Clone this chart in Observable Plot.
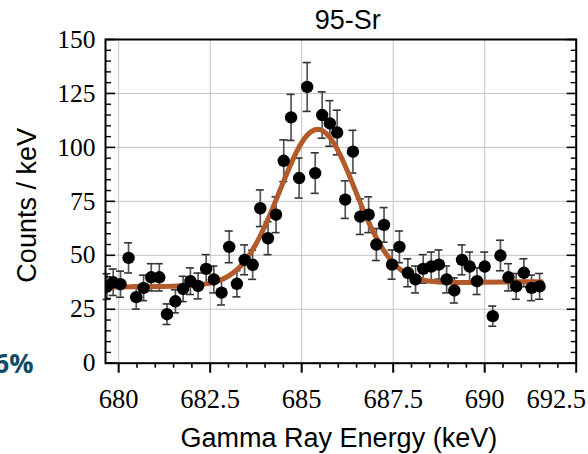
<!DOCTYPE html>
<html><head><meta charset="utf-8">
<script src="https://cdn.jsdelivr.net/npm/d3@7"></script>
<script src="https://cdn.jsdelivr.net/npm/@observablehq/plot@0.6"></script>
<style>
html,body{margin:0;padding:0;background:#fff;}
#chart{width:588px;height:454px;overflow:hidden;}
</style>
</head><body><div id="chart"></div>
<script>
// Measured spectrum points (Counts / keV vs energy)
const energy = [679.68, 679.85, 680.05, 680.27, 680.48, 680.68, 680.89, 681.11, 681.32, 681.55,
  681.76, 681.96, 682.17, 682.39, 682.60, 682.81, 683.02, 683.23, 683.44, 683.66,
  683.87, 684.08, 684.30, 684.51, 684.71, 684.93, 685.15, 685.37, 685.56, 685.77,
  685.97, 686.19, 686.40, 686.60, 686.83, 687.04, 687.25, 687.47, 687.67, 687.90,
  688.11, 688.32, 688.54, 688.75, 688.96, 689.17, 689.38, 689.59, 689.79, 690.00,
  690.22, 690.43, 690.65, 690.86, 691.07, 691.28, 691.50];
const counts = [35.5, 37.5, 36.6, 48.8, 30.6, 34.9, 39.8, 39.8, 22.7, 28.7,
  34.4, 38.0, 35.8, 43.7, 38.8, 32.7, 53.9, 36.8, 47.9, 45.6,
  71.8, 57.9, 68.8, 93.8, 113.9, 85.8, 128.0, 88.1, 115.0, 111.1,
  106.9, 75.8, 98.0, 67.9, 68.8, 55.0, 64.1, 45.7, 53.9, 41.9,
  38.8, 43.7, 44.8, 45.7, 38.8, 33.7, 47.9, 44.8, 38.0, 44.8,
  21.8, 49.9, 39.8, 35.6, 41.9, 34.9, 35.6];

// Fitted curve
const fitEnergy = [679.6, 680, 680.5, 681, 681.5, 682, 682.5, 682.75, 683, 683.25, 683.5, 683.75,
  684, 684.25, 684.5, 684.75, 685, 685.25, 685.5, 685.75, 686, 686.25, 686.5, 686.75,
  687, 687.25, 687.5, 687.75, 688, 688.25, 688.5, 689, 689.5, 690, 690.5, 691, 691.55];
const fitCounts = [35.2, 35.3, 35.4, 35.5, 35.7, 36.0, 37.1, 38.3, 40.4, 43.6, 48.4, 55.2,
  63.7, 73.6, 84.0, 94.0, 102.2, 107.2, 108.2, 105.0, 98.3, 89.0, 78.6, 68.4,
  59.3, 52.0, 46.5, 42.7, 40.2, 38.8, 38.0, 37.5, 37.4, 37.5, 37.6, 37.7, 37.8];

// Tick values
const xMajorTicks = [680, 682.5, 685, 687.5, 690, 692.5];
const xLabelTicks = [680, 682.5, 685, 687.5, 690];
const xLastLabel = [692.5];
const xMinorTicks = [680.5, 681, 681.5, 682, 683, 683.5, 684, 684.5, 685.5, 686, 686.5, 687,
  688, 688.5, 689, 689.5, 690.5, 691, 691.5, 692];
const yMajorTicks = [0, 25, 50, 75, 100, 125, 150];
const yMinorTicks = [5, 10, 15, 20, 30, 35, 40, 45, 55, 60, 65, 70, 80, 85, 90, 95,
  105, 110, 115, 120, 130, 135, 140, 145];

const titleText = "95-Sr";
const xLabelText = "Gamma Ray Energy (keV)";
const yLabelText = "Counts / keV";
const sideText = "6%";

const points = energy.map((e, i) => ({e, c: counts[i], err: Math.sqrt(counts[i])}));
const fit = fitEnergy.map((e, i) => ({e, c: fitCounts[i]}));

const serif = "'Liberation Serif', 'Times New Roman', serif";
const sans = "'Liberation Sans', Arial, sans-serif";
const none = () => "";

const chart = Plot.plot({
  width: 588, height: 454,
  marginLeft: 105, marginRight: 12.3, marginTop: 39, marginBottom: 91.3,
  style: {background: "white", overflow: "visible"},
  x: {domain: [679.64, 692.5], label: null},
  y: {domain: [0, 150], label: null},
  marks: [
    Plot.gridX(xMajorTicks, {stroke: "#c4c4c4", strokeOpacity: 1, strokeWidth: 1}),
    Plot.gridY(yMajorTicks, {stroke: "#c4c4c4", strokeOpacity: 1, strokeWidth: 1}),
    Plot.ruleX(points, {x: "e", y1: d => d.c - d.err, y2: d => d.c + d.err, stroke: "#555", strokeWidth: 1.7}),
    Plot.ruleY(points, {x1: "e", x2: "e", y: d => d.c + d.err, insetLeft: -4, insetRight: -4, stroke: "#333", strokeWidth: 1.6}),
    Plot.ruleY(points, {x1: "e", x2: "e", y: d => d.c - d.err, insetLeft: -4, insetRight: -4, stroke: "#333", strokeWidth: 1.6}),
    Plot.line(fit, {x: "e", y: "c", curve: "natural", stroke: "#b35a2b", strokeWidth: 5, clip: true}),
    Plot.dot(points, {x: "e", y: "c", r: 6.2, fill: "black", stroke: null, clip: true}),
    Plot.frame({stroke: "black", strokeWidth: 2}),
    // bottom ticks (outward)
    Plot.axisX(xMajorTicks, {tickSize: 10, tickFormat: none, strokeWidth: 2, label: null}),
    Plot.axisX(xMinorTicks, {tickSize: 5, tickFormat: none, strokeWidth: 1.6, label: null}),
    Plot.axisX(xLabelTicks, {tickSize: 0, tickPadding: 26, fontFamily: serif, fontSize: 26.5, tickFormat: d => String(d), label: null, ariaLabel: "x-labels"}),
    Plot.axisX(xLastLabel, {tickSize: 0, tickPadding: 26, dx: -20, fontFamily: serif, fontSize: 26.5, tickFormat: d => String(d), label: null, ariaLabel: "x-labels"}),
    // left ticks (inward)
    Plot.axisY(yMajorTicks, {anchor: "left", tickSize: 10, dx: 10, tickFormat: none, strokeWidth: 1.6, label: null}),
    Plot.axisY(yMinorTicks, {anchor: "left", tickSize: 6, dx: 6, tickFormat: none, strokeWidth: 1.4, label: null}),
    // right ticks (inward)
    Plot.axisY(yMajorTicks, {anchor: "right", tickSize: 10, dx: -10, tickFormat: none, strokeWidth: 1.6, label: null}),
    Plot.axisY(yMinorTicks, {anchor: "right", tickSize: 6, dx: -6, tickFormat: none, strokeWidth: 1.4, label: null}),
    // left labels
    Plot.axisY(yMajorTicks, {anchor: "left", tickSize: 0, tickPadding: 10, fontFamily: serif, fontSize: 25.5, tickFormat: d => String(d), label: null, ariaLabel: "y-labels"}),
    Plot.text([titleText], {text: d => d, frameAnchor: "top", textAnchor: "middle", lineAnchor: "middle", dx: 7, dy: -19, fontFamily: sans, fontSize: 27, fill: "black"}),
    Plot.text([xLabelText], {text: d => d, frameAnchor: "bottom", textAnchor: "middle", lineAnchor: "middle", dx: -2, dy: 75, fontFamily: sans, fontSize: 27, fill: "black"}),
    Plot.text([yLabelText], {text: d => d, frameAnchor: "left", textAnchor: "middle", lineAnchor: "middle", rotate: -90, dx: -78, dy: 4, fontFamily: sans, fontSize: 27, fill: "black"}),
    Plot.text([sideText], {text: d => d, frameAnchor: "bottom-left", textAnchor: "end", lineAnchor: "middle", dx: -72, dy: 1, fontFamily: "'Open Sans', sans-serif", fontWeight: "bold", fontSize: 27, fill: "#0e4d64"})
  ]
});
d3.select(chart).selectAll("g[aria-label='x-labels'], g[aria-label='y-labels']").style("font-family", serif);
document.getElementById("chart").appendChild(chart);
</script>
</body></html>
